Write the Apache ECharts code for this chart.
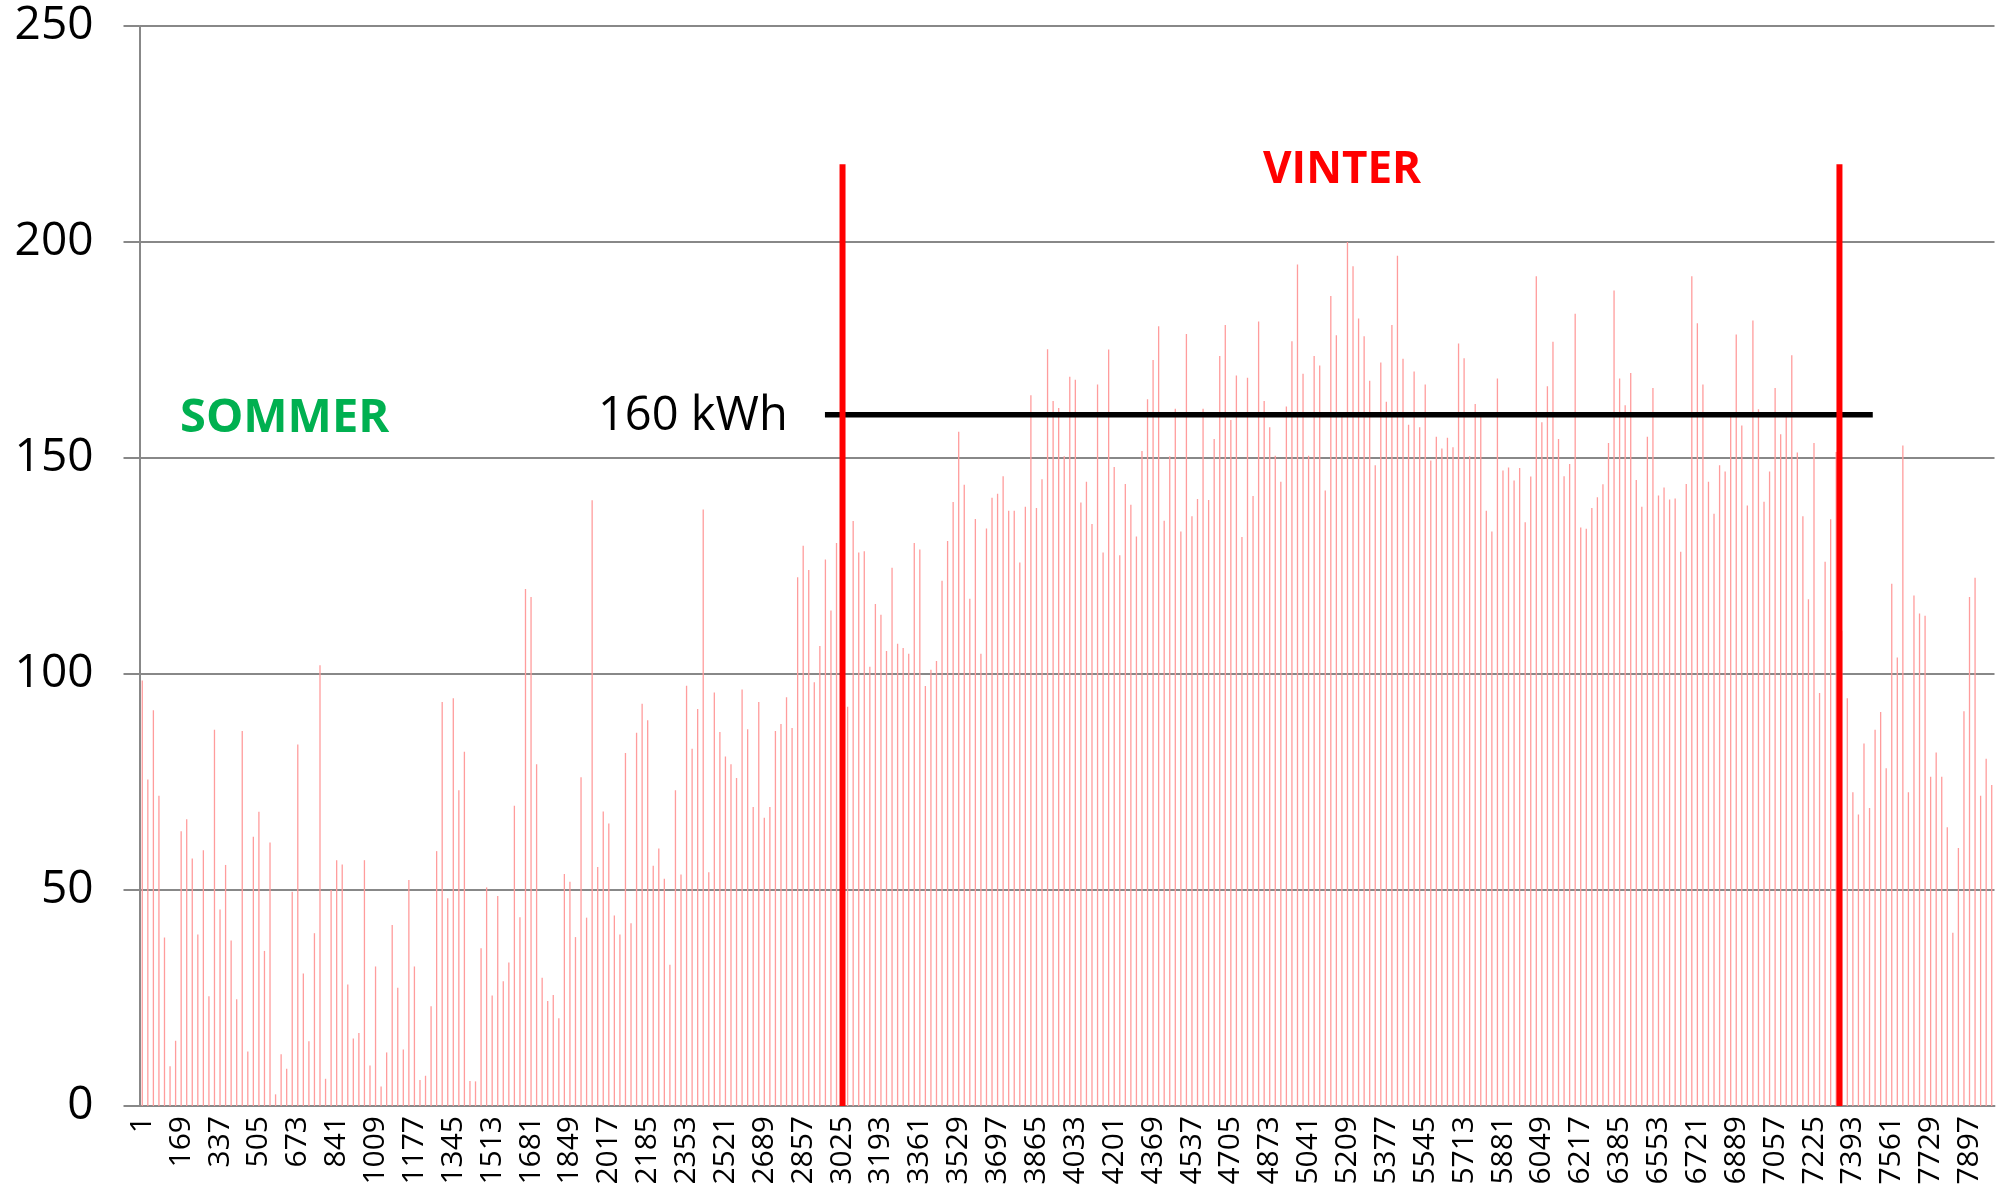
<!DOCTYPE html>
<html>
<head>
<meta charset="utf-8">
<script src="https://cdn.jsdelivr.net/npm/echarts@6/dist/echarts.min.js"></script>
<style>
  html, body { margin: 0; padding: 0; background: #fff; }
  #chart { width: 2005px; height: 1188px; }
</style>
</head>
<body>
<div id="chart"></div>
<script>
// one bar per day, kWh
var dayValues = [
  98.5, 75.6, 91.6, 71.8, 39, 9.2, 15.1, 63.6, 66.4, 57.3, 39.7, 59.2, 25.4, 87.1, 45.5, 55.8, 38.3, 24.7, 86.8, 12.6,
  62.3, 68.1, 35.9, 61, 2.7, 12, 8.6, 49.6, 83.7, 30.7, 15, 40, 102, 6.3, 50, 56.9, 55.9, 28.1, 15.6, 16.9,
  56.9, 9.4, 32.3, 4.5, 12.4, 41.9, 27.4, 13.1, 52.3, 32.3, 6, 7, 23.1, 59, 93.5,
  48.1, 94.4, 73.1, 82, 5.8, 5.7, 36.5, 50.6, 25.6, 48.6, 28.9, 33.2, 69.5, 43.7, 119.7, 117.8, 79.1, 29.7, 24.3, 25.7,
  20.3, 53.7, 51.9, 39.1, 76.1, 43.6, 140.2, 55.3, 68.2, 65.4, 44.1, 39.7, 81.7, 42.3, 86.4, 93.1, 89.3, 55.6, 59.6, 52.6,
  32.7, 73.1, 53.6, 97.3, 82.7, 91.9, 138.1, 54.1, 95.7, 86.6, 80.9, 79.1, 75.9, 96.4, 87.2,
  69.2, 93.5, 66.7, 69.2, 86.8, 88.4, 94.6, 87.5, 122.4, 129.7, 124.1, 98.1, 106.5, 126.5, 114.7, 130.3, 115, 92.4, 135.4, 128.1,
  128.4, 101.7, 116.2, 113.7, 105.3, 124.6, 107, 106, 104.7, 130.3, 128.8, 97.2, 101, 103, 121.6, 130.8, 139.8, 156.1, 143.8, 117.4,
  135.9, 104.7, 133.7, 140.8, 141.7, 145.8, 137.8, 137.8, 125.8, 138.7, 164.5, 138.4, 145.1, 175.2, 163.2,
  161.6, 150.4, 168.8, 168.1, 139.7, 144.5, 134.7, 167, 128.1, 175.1, 147.9, 127.5, 144, 139.2, 131.8, 151.6, 163.6, 172.7, 180.5, 135.5,
  150.4, 161.4, 133, 178.7, 136.5, 140.5, 161.4, 140.3, 154.4, 173.6, 180.8, 158.8, 169.1, 131.7, 168.6, 141.2, 181.6, 163.2, 157.1, 150.5,
  144.5, 161.9, 177, 194.8, 169.5, 150.5, 173.6, 171.4, 142.5, 187.5, 178.4, 160, 200, 194.4, 182.3,
  178.2, 167.9, 148.3, 172.1, 163, 180.8, 196.8, 173, 157.7, 170, 157.1, 167, 149.4, 154.9, 152.2, 154.7, 152.5, 176.5, 173.1, 150.4,
  162.5, 159.7, 137.8, 133, 168.4, 147.1, 147.8, 144.8, 147.7, 135.1, 145.7, 192.1, 158.3, 166.6, 176.9, 154.4, 145.8, 148.6, 183.4, 133.9,
  133.6, 138.4, 140.9, 143.9, 153.5, 188.8, 168.4, 162.2, 169.7, 144.9, 138.7, 154.9, 166.2, 141.3, 143.2,
  140.4, 140.6, 128.3, 144, 192.1, 181.2, 167, 144.5, 137.1, 148.3, 146.9, 159.6, 178.6, 157.5, 139, 181.8, 161.3, 139.9, 146.9, 166.2,
  155.5, 159.6, 173.8, 151.3, 136.5, 117.3, 153.5, 95.6, 126, 135.8, 151.4, 110, 94.4, 72.6, 67.5, 83.9, 69, 87.1, 91.2, 78.2,
  120.9, 103.8, 152.9, 72.6, 118.2, 114, 113.5, 76.2, 81.8, 76.2, 64.5, 40.1, 59.7, 91.4, 117.8, 122.3, 71.8, 80.4, 74.3
];

// x labels: hour number at the start of each day (1, 25, 49, ...)
var hourLabels = [];
for (var i = 0; i < dayValues.length; i++) {
  hourLabels.push(String(i * 24 + 1));
}

var yTicks = [0, 50, 100, 150, 200, 250];

// season marks, in hours
var winterStart = 3038,
    winterEnd = 7346,
    winterTop = 218,
    limitFrom = 2962,
    limitTo = 7490,
    limitValue = 160;

var chart = echarts.init(document.getElementById('chart'));

var gray = '#888888';

var option = {
  animation: false,
  backgroundColor: '#ffffff',
  grid: { left: 139.5, right: 10.5, top: 26, bottom: 82 },
  xAxis: [{
    type: 'category',
    data: hourLabels,
    boundaryGap: true,
    axisLine: { lineStyle: { color: gray, width: 2 } },
    axisTick: { interval: 6, length: 9, lineStyle: { color: gray, width: 2 } },
    axisLabel: {
      interval: 6,
      rotate: 90,
      margin: 10,
      color: '#000',
      fontSize: 30,
      fontFamily: 'Open Sans'
    },
    splitLine: { show: false }
  }, {
    type: 'value',
    min: 0,
    max: hourLabels.length * 24,
    show: false
  }],
  yAxis: {
    type: 'value',
    min: yTicks[0],
    max: yTicks[yTicks.length - 1],
    interval: 50,
    axisLine: { show: true, lineStyle: { color: gray, width: 2 } },
    axisTick: { show: true, length: 16, lineStyle: { color: gray, width: 2 } },
    axisLabel: {
      margin: 46,
      color: '#000',
      fontSize: 46,
      fontFamily: 'Open Sans'
    },
    splitLine: { lineStyle: { color: gray, width: 2 } }
  },
  series: [{
    name: 'kWh',
    type: 'bar',
    data: dayValues,
    barWidth: 1.3,
    itemStyle: { color: '#ff9c9c' },
    z: 2
  }, {
    type: 'line',
    xAxisIndex: 1,
    data: [[limitFrom, limitValue], [limitTo, limitValue]],
    symbol: 'none',
    lineStyle: { color: '#000', width: 5.5 },
    z: 3
  }, {
    type: 'line',
    xAxisIndex: 1,
    data: [[winterStart, 0], [winterStart, winterTop]],
    symbol: 'none',
    lineStyle: { color: '#ff0000', width: 6 },
    z: 4
  }, {
    type: 'line',
    xAxisIndex: 1,
    data: [[winterEnd, 0], [winterEnd, winterTop]],
    symbol: 'none',
    lineStyle: { color: '#ff0000', width: 6 },
    z: 4
  }],
  graphic: [{
    type: 'text',
    x: 180,
    y: 419,
    style: { text: 'SOMMER', fill: '#00b050', font: 'bold 47px "Open Sans"', align: 'left', verticalAlign: 'middle' }
  }, {
    type: 'text',
    x: 598,
    y: 417,
    style: { text: '160 kWh', fill: '#000', font: '47px "Open Sans"', align: 'left', verticalAlign: 'middle' }
  }, {
    type: 'text',
    x: 1263,
    y: 170,
    style: { text: 'VINTER', fill: '#ff0000', font: 'bold 44px "Open Sans"', align: 'left', verticalAlign: 'middle' }
  }]
};

chart.setOption(option);
</script>
</body>
</html>
